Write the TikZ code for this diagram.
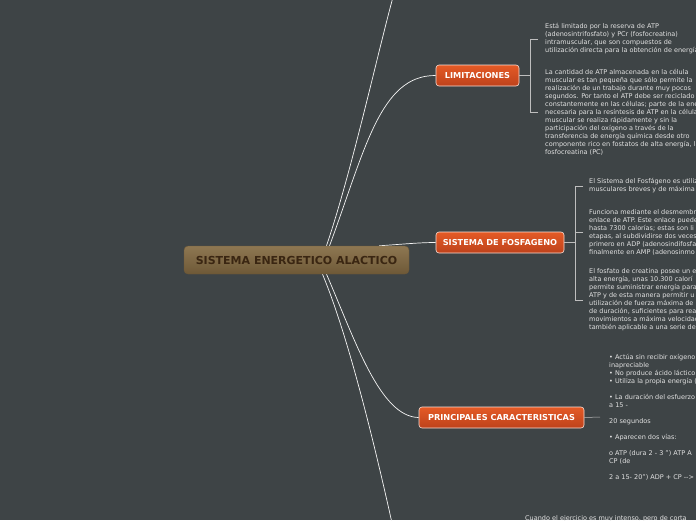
\documentclass[tikz,border=0pt]{standalone}
\usepackage{fontspec}
\setmainfont{DejaVu Sans}
\usepackage{xcolor}
\usepackage{tikz}
\usetikzlibrary{calc,backgrounds}
\definecolor{bgdark}{HTML}{3E4446}
\definecolor{roottop}{HTML}{8E7752}
\definecolor{rootbot}{HTML}{6E5937}
\definecolor{roottext}{HTML}{3A2612}
\definecolor{topictop}{HTML}{E45A26}
\definecolor{topicbot}{HTML}{BE421B}
\definecolor{notetext}{HTML}{E2E2E2}
\definecolor{linegray}{HTML}{BEBEBE}
\tikzset{
  rootbox/.style={draw=rootbot, rounded corners=4pt, top color=roottop, bottom color=rootbot,
    text=roottext, font=\fontsize{11}{12}\selectfont\bfseries, minimum width=225pt,
    minimum height=28pt, inner sep=0pt},
  topicbox/.style={draw=white!80!topictop, line width=0.6pt, rounded corners=3pt,
    top color=topictop, bottom color=topicbot, text=white,
    font=\fontsize{8.2}{9}\selectfont\bfseries, minimum height=21pt, inner sep=0pt},
  notetxt/.style={text=notetext, font=\fontsize{6.5}{8}\selectfont, align=left,
    anchor=west, inner sep=0pt},
  branch/.style={white!92!gray, line width=0.7pt},
  bracket/.style={linegray, line width=0.5pt}
}

\begin{document}
\begin{tikzpicture}[x=1pt,y=-1pt]
  \useasboundingbox (0,0) rectangle (696,520);
  \clip (0,0) rectangle (696,520);
  \node[rootbox] (root) at (296.5,260) {SISTEMA ENERGETICO ALACTICO};
  \node[topicbox,minimum width=83pt] (lim) at (477.5,75.5) {LIMITACIONES};
  \node[topicbox,minimum width=128pt] (fos) at (500,242.5) {SISTEMA DE FOSFAGENO};
  \node[topicbox,minimum width=165pt] (car) at (501.5,417.5) {PRINCIPALES CARACTERISTICAS};
  \coordinate (up) at (393,-3);
  \coordinate (down) at (392,523);
  \coordinate (limJ) at (530,75.5);
  \coordinate (fosJ) at (575,242.5);

  \node[notetxt] (lim1) at (545,39) {Está limitado por la reserva de ATP\\
    (adenosintrifosfato) y PCr (fosfocreatina)\\
    intramuscular, que son compuestos de\\
    utilización directa para la obtención de energía};
  \node[notetxt] (lim2) at (545,112) {La cantidad de ATP almacenada en la célula\\
    muscular es tan pequeña que sólo permite la\\
    realización de un trabajo durante muy pocos\\
    segundos. Por tanto el ATP debe ser reciclado\\
    constantemente en las células; parte de la ene\\
    necesaria para la resíntesis de ATP en la célula\\
    muscular se realiza rápidamente y sin la\\
    participación del oxígeno a través de la\\
    transferencia de energía química desde otro\\
    componente rico en fostatos de alta energía, la\\
    fosfocreatina (PC)};

  \node[notetxt] (fos1) at (589,186) {El Sistema del Fosfágeno es utiliz\\
    musculares breves y de máxima};
  \node[notetxt] (fos2) at (589,232) {Funciona mediante el desmembr\\
    enlace de ATP. Este enlace puede\\
    hasta 7300 calorías; estas son li\\
    etapas, al subdividirse dos veces\\
    primero en ADP (adenosindifosfa\\
    finalmente en AMP (adenosinmo};
  \node[notetxt] (fos3) at (589,300) {El fosfato de creatina posee un e\\
    alta energía, unas 10.300 calorí\\
    permite suministrar energía para\\
    ATP y de esta manera permitir u\\
    utilización de fuerza máxima de\\
    de duración, suficientes para rea\\
    movimientos a máxima velocidad\\
    también aplicable a una serie de};

  \node[notetxt] (car1) at (609,417) {• Actúa sin recibir oxígeno\\
    inapreciable\\
    • No produce ácido láctico\\
    • Utiliza la propia energía (\\[8pt]
    • La duración del esfuerzo\\
    a 15 -\\[8pt]
    20 segundos\\[8pt]
    • Aparecen dos vías:\\[8pt]
    o ATP (dura 2 - 3 ") ATP A\\
    CP (de\\[8pt]
    2 a 15- 20") ADP + CP {-}{-}>};

  \node[notetxt] (low1) at (525,519) {Cuando el ejercicio es muy intenso, pero de corta};

  \begin{scope}[on background layer]
    \fill[bgdark] (0,0) rectangle (696,520);
    \draw[branch] ($(root.north)+(30,0)$) .. controls (352,170) and (376,60) .. (up);
    \draw[branch] ($(root.north)+(33,0)$) .. controls (365,150) and (380,75) .. (lim.west);
    \draw[branch] ($(root.north east)+(-30,0)$) .. controls (405,244) and (420,242.5) .. (fos.west);
    \draw[branch] ($(root.south)+(30,0)$) .. controls (355,340) and (380,417) .. (car.west);
    \draw[branch] ($(root.south)+(26,0)$) .. controls (350,340) and (378,460) .. (down);
  \end{scope}

  \draw[bracket] (lim.east) -- (limJ);
  \draw[bracket] ($(lim1.west)+(-7,0)$) -- (lim1.west -| limJ) -- (lim2.west -| limJ)
    -- ($(lim2.west)+(-7,0)$);
  \draw[bracket] (fos.east) -- (fosJ);
  \draw[bracket] ($(fos1.west)+(-6,0)$) -- (fos1.west -| fosJ) -- (fos3.west -| fosJ)
    -- ($(fos3.west)+(-6,0)$);
  \draw[bracket] ($(fos2.west)+(-6,0)$) -- (fos2.west -| fosJ);
  \draw[bracket] (car.east) -- ($(car1.west)+(-9,0)$);
\end{tikzpicture}
\end{document}
